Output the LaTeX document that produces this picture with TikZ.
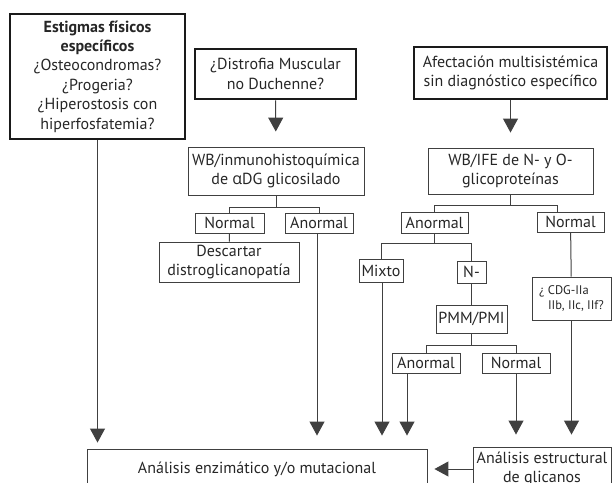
\documentclass[tikz,border=0pt]{standalone}
\usepackage{fontspec}
\setmainfont{PT Sans}
\newfontfamily\alphafont{Open Sans}
\usetikzlibrary{arrows.meta}
\definecolor{boxink}{HTML}{1A1A1A}
\definecolor{lineink}{HTML}{404040}
\definecolor{textink}{HTML}{262626}
\tikzset{
  thickbox/.style={draw=boxink, line width=2.6pt, inner sep=0pt, align=center, text=textink, font=\fontsize{16}{19.4}\selectfont},
  plainbox/.style={draw=lineink, line width=0.9pt, inner sep=0pt, align=center, text=textink, font=\fontsize{16}{19}\selectfont},
  link/.style={draw=lineink, line width=1pt},
  arrowlink/.style={link, -{Triangle[width=15pt,length=14pt]}, shorten >=#1},
  arrowlink/.default=13pt
}
\begin{document}
\begin{tikzpicture}[x=1pt,y=-1pt]
\useasboundingbox (0,0) rectangle (612,482);
\clip (0,0) rectangle (612,482);

\node[thickbox, minimum width=175pt, minimum height=125pt] (estigmas) at (97.5,76.5) {\textbf{Estigmas físicos}\\\textbf{específicos}\\¿Osteocondromas?\\¿Progeria?\\¿Hiperostosis con\\hiperfosfatemia?};
\node[thickbox, minimum width=161pt, minimum height=50pt] (distrofia) at (275.5,74) {¿Distrofia Muscular\\no Duchenne?};
\node[thickbox, minimum width=193pt, minimum height=52pt] (afect) at (510.5,73) {Afectación multisistémica\\sin diagnóstico específico};

\node[plainbox, minimum width=176pt, minimum height=48pt] (wbinm) at (276,171) {WB/inmunohistoquímica\\de {\alphafont α}DG glicosilado};
\node[plainbox, minimum width=165pt, minimum height=46pt] (wbife) at (510.5,171) {WB/IFE de N- y O-\\glicoproteínas};

\node[plainbox, minimum width=69pt, minimum height=20pt] (normA) at (229.5,223) {Normal};
\node[plainbox, minimum width=68pt, minimum height=20pt] (anormA) at (319,223) {Anormal};
\node[plainbox, minimum width=140pt, minimum height=40pt] (descartar) at (229,262) {Descartar\\distroglicanopatía};

\node[plainbox, minimum width=67pt, minimum height=21pt] (anormB) at (434.5,222.5) {Anormal};
\node[plainbox, minimum width=67pt, minimum height=20pt] (normB) at (570.5,222) {Normal};
\node[plainbox, minimum width=44pt, minimum height=23pt] (mixto) at (381,270.5) {Mixto};
\node[plainbox, minimum width=29pt, minimum height=22pt] (nminus) at (471.5,272) {N-};
\node[plainbox, minimum width=71pt, minimum height=28pt] (pmm) at (471.5,319) {PMM/PMI};
\node[plainbox, minimum width=68pt, minimum height=20pt] (anormC) at (426,363) {Anormal};
\node[plainbox, minimum width=68pt, minimum height=20pt] (normC) at (516,363) {Normal};
\node[plainbox, minimum width=79pt, minimum height=43pt, align=left, font=\fontsize{12.5}{15}\selectfont] (cdg) at (571.5,298.5) {¿ CDG-IIa\\\hspace*{9pt}IIb, IIc, IIf?};

\node[plainbox, minimum width=340pt, minimum height=40pt] (enzim) at (257,469) {Análisis enzimático y/o mutacional};
\node[plainbox, minimum width=138pt, minimum height=44pt] (estruct) at (542,469) {Análisis estructural\\de glicanos};

\draw[arrowlink=15pt] (distrofia) -- (wbinm);
\draw[arrowlink=15pt] (afect) -- (wbife);
\draw[link] (wbinm.south) -- ++(0,12) -| (normA.north);
\draw[link] (wbinm.south) -- ++(0,12) -| (anormA.north);
\draw[link] (normA) -- (descartar);
\draw[link] (wbife.south) -- ++(0,11) -| (anormB.north);
\draw[link] (wbife.south) -- ++(0,11) -| ([xshift=-13.5pt]normB.north);
\draw[link] (anormB.south) -- ++(0,10) -| (mixto.north);
\draw[link] (anormB.south) -- ++(0,10) -| (nminus.north);
\draw[link] (nminus) -- (pmm);
\draw[link] (pmm.south) -- ++(0,12) -| (anormC.north);
\draw[link] (pmm.south) -- ++(0,12) -| (normC.north);
\draw[link] (normB) -- (cdg);

\draw[arrowlink=6pt] (estigmas.south) -- (estigmas.south |- enzim.north);
\draw[arrowlink] ([xshift=-2pt]anormA.south) -- ([xshift=-2pt]anormA.south |- enzim.north);
\draw[arrowlink] ([xshift=1pt]mixto.south) -- ([xshift=1pt]mixto.south |- enzim.north);
\draw[arrowlink] ([xshift=-19pt]anormC.south) -- ([xshift=-19pt]anormC.south |- enzim.north);
\draw[arrowlink=12pt] (normC.south) -- (normC.south |- estruct.north);
\draw[arrowlink=12pt] (cdg.south) -- (cdg.south |- estruct.north);
\draw[arrowlink=7pt] (estruct.west) -- (estruct.west -| enzim.east);
\end{tikzpicture}
\end{document}
